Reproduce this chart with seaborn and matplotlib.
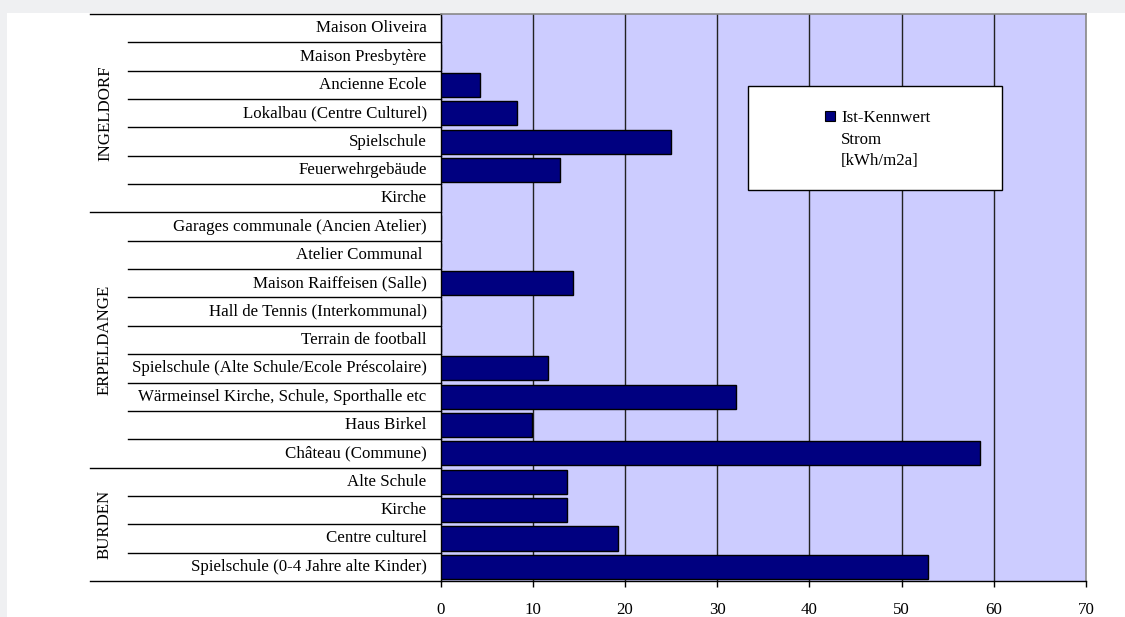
import matplotlib
matplotlib.use("Agg")
import matplotlib.pyplot as plt
from matplotlib.patches import Rectangle, Patch
from matplotlib.transforms import blended_transform_factory
import seaborn as sns
import pandas as pd

# Buildings, top to bottom, and their electricity benchmark in kWh/m2a
buildings = [
    "Maison Oliveira", "Maison Presbytère", "Ancienne Ecole",
    "Lokalbau (Centre Culturel)", "Spielschule", "Feuerwehrgebäude", "Kirche",
    "Garages communale (Ancien Atelier)", "Atelier Communal ",
    "Maison Raiffeisen (Salle)", "Hall de Tennis (Interkommunal)",
    "Terrain de football", "Spielschule (Alte Schule/Ecole Préscolaire)",
    "Wärmeinsel Kirche, Schule, Sporthalle etc", "Haus Birkel",
    "Château (Commune)", "Alte Schule", "Kirche ", "Centre culturel",
    "Spielschule (0-4 Jahre alte Kinder)",
]
strom = [0, 0, 4.3, 8.3, 25.0, 12.9, 0,
         0, 0, 14.3, 0, 0, 11.6, 32.0, 9.9, 58.5,
         13.7, 13.7, 19.2, 52.9]
# Localities: name, first row index, last row index
groups = [("INGELDORF", 0, 6), ("ERPELDANGE", 7, 15), ("BURDEN", 16, 19)]
x_ticks = [0, 10, 20, 30, 40, 50, 60, 70]
legend_lines = ["Ist-Kennwert", "Strom", "[kWh/m2a]"]

plt.rcParams["font.family"] = ["Liberation Serif", "DejaVu Serif"]
FS = 12.2
W, H = 1125, 617
fig = plt.figure(figsize=(W / 100, H / 100), dpi=100, facecolor="#eff0f2")

# white chart panel behind everything
fig.patches.append(Rectangle((7 / W, 0), 1 - 7 / W, 1 - 13 / H,
                             transform=fig.transFigure, facecolor="white",
                             edgecolor="none", zorder=-10))

ax_l, ax_r, ax_t, ax_b = 440.7, 1086, 14, 581
ax = fig.add_axes([ax_l / W, 1 - ax_b / H, (ax_r - ax_l) / W, (ax_b - ax_t) / H])
ax.set_facecolor("#ccccff")

df = pd.DataFrame({"building": buildings, "strom": strom})
sns.barplot(data=df, y="building", x="strom", orient="h", color="#000080",
            saturation=1, edgecolor="black", linewidth=1.0, width=0.85,
            ax=ax, zorder=3)

ax.set_xlim(0, 70)
ax.set_ylim(len(buildings) - 0.5, -0.5)
ax.set_xticks(x_ticks)
ax.set_xticklabels([str(t) for t in x_ticks], fontsize=FS)
ax.tick_params(axis="x", direction="out", length=4, width=1, color="black",
               pad=11)
ax.set_yticks([])
ax.set_xlabel("")
ax.set_ylabel("")
for t in x_ticks[1:-1]:
    ax.axvline(t, color="#222222", lw=1, zorder=1)
for side in ("top", "right"):
    ax.spines[side].set_color("#888888")
    ax.spines[side].set_linewidth(1.2)
for side in ("left", "bottom"):
    ax.spines[side].set_color("black")
    ax.spines[side].set_linewidth(1)

# category table on the left
tr = blended_transform_factory(ax.transAxes, ax.transData)
axw = ax_r - ax_l
x_text = (426.7 - ax_l) / axw
x_cat = (128 - ax_l) / axw
x_grp = (90 - ax_l) / axw
x_glab = (105 - ax_l) / axw
for i, name in enumerate(buildings):
    label = name if name.strip() == "Atelier Communal" else name.rstrip()
    ax.text(x_text, i, label, transform=tr, ha="right", va="center",
            fontsize=FS, clip_on=False)
group_edges = {g[1] for g in groups} | {groups[-1][2] + 1}
for k in range(len(buildings) + 1):
    y = k - 0.5
    x0 = x_grp if k in group_edges else x_cat
    ax.plot([x0, 0], [y, y], transform=tr, color="black", lw=1, clip_on=False)
for name, a, b in groups:
    ax.text(x_glab, (a + b) / 2, name, transform=tr, rotation=90,
            ha="center", va="center", fontsize=FS, clip_on=False)

# legend box
ax.add_patch(Rectangle((748 / W, 1 - 190 / H), (1002 - 748) / W,
                       (190 - 86) / H, transform=fig.transFigure,
                       facecolor="white", edgecolor="black", lw=1,
                       zorder=5, clip_on=False))
handle = Patch(facecolor="#000080", edgecolor="black", lw=0.8)
leg = ax.legend([handle], [legend_lines[0]], loc="center left",
                bbox_to_anchor=(825 / W, 1 - 118 / H),
                bbox_transform=fig.transFigure, frameon=False, fontsize=FS,
                handlelength=0.6, handleheight=0.6, handletextpad=0.35,
                borderpad=0, borderaxespad=0)
leg.set_zorder(6)
for j, line in enumerate(legend_lines[1:], start=1):
    ax.text(841 / W, 1 - (119 + 21 * j) / H, line, transform=fig.transFigure,
            ha="left", va="center", fontsize=FS, zorder=7)

fig.savefig("out.png", dpi=100, facecolor=fig.get_facecolor())
